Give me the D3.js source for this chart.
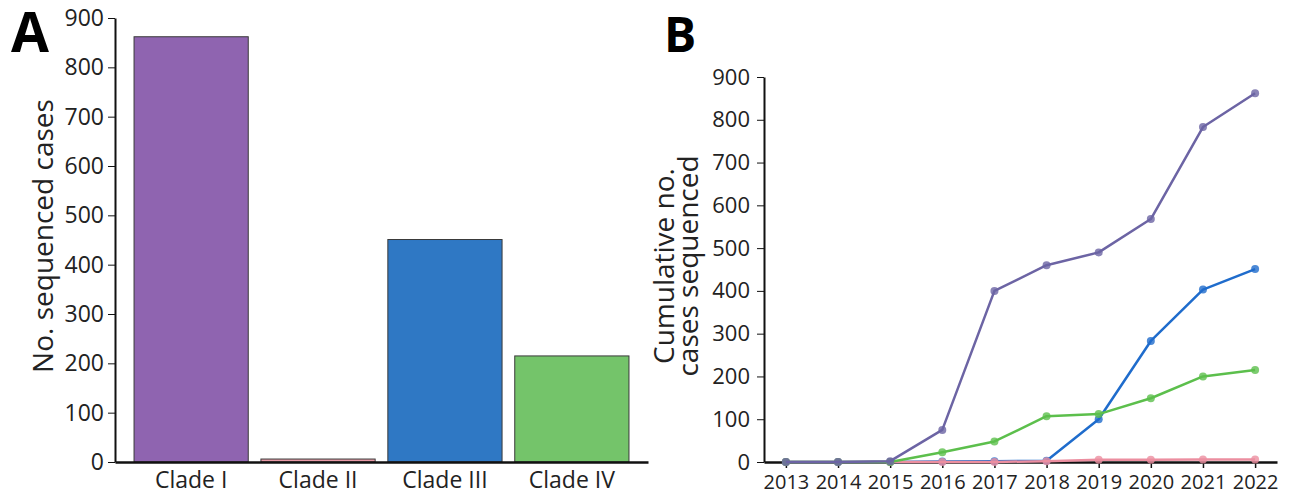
<!DOCTYPE html>
<html>
<head>
<meta charset="utf-8">
<script src="https://cdn.jsdelivr.net/npm/d3@7"></script>
<style>
  body { margin: 0; background: #fff; }
  svg text { font-family: "Open Sans", "Noto Sans", sans-serif; }
  .axis path, .axis line { stroke: #111; }
  .axis text { fill: #222; }
</style>
</head>
<body>
<svg id="chart" width="1290" height="494"></svg>
<script>
// ---- data ----
const clades = ["Clade I", "Clade II", "Clade III", "Clade IV"];
const cladeTotals = [862, 6, 451, 215];
const cladeFill = ["#8f64b0", "#e99aa6", "#2f78c4", "#74c46a"];
const lineColor = ["#6c64a4", "#ec8ea0", "#1f6ccc", "#5cbf4c"];

const years = ["2013", "2014", "2015", "2016", "2017", "2018", "2019", "2020", "2021", "2022"];
const cladeI   = [0, 0, 2, 75, 400, 460, 490, 568, 783, 862];
const cladeII  = [0, 0, 0, 0, 0, 2, 5, 5, 6, 6];
const cladeIII = [0, 0, 0, 1, 2, 3, 100, 283, 403, 451];
const cladeIV  = [0, 0, 0, 23, 48, 107, 112, 149, 200, 215];

const yTicks = [0, 100, 200, 300, 400, 500, 600, 700, 800, 900];

const svg = d3.select("#chart");

// ---------- //
// Panel A    //
// ---------- //
const xA = d3.scaleBand().domain(clades).range([115, 648])
    .paddingInner(0.1).paddingOuter(0.15);
const yA = d3.scaleLinear().domain([0, 900]).range([462, 18]);

const gA = svg.append("g");

gA.selectAll("rect")
    .data(clades)
    .join("rect")
    .attr("x", d => xA(d))
    .attr("width", xA.bandwidth())
    .attr("y", (d, i) => yA(cladeTotals[i]))
    .attr("height", (d, i) => yA(0) - yA(cladeTotals[i]))
    .attr("fill", (d, i) => cladeFill[i])
    .attr("stroke", "#3a3a3a")
    .attr("stroke-width", 1);

gA.append("g")
    .attr("class", "axis")
    .attr("transform", `translate(115,0)`)
    .call(d3.axisLeft(yA).tickValues(yTicks).tickSize(7).tickSizeOuter(0).tickPadding(4))
    .call(g => g.selectAll("text").style("font-size", "23px"))
    .call(g => g.select(".domain").attr("stroke-width", 2));

gA.append("g")
    .attr("class", "axis")
    .attr("transform", `translate(0,462)`)
    .call(d3.axisBottom(xA).tickSize(0).tickPadding(10))
    .call(g => g.selectAll("text").style("font-size", "23px"))
    .call(g => g.select(".domain").attr("stroke-width", 2.5));

gA.append("text")
    .attr("transform", "translate(53,236) rotate(-90)")
    .attr("text-anchor", "middle")
    .style("font-size", "28px")
    .attr("fill", "#222")
    .text("No. sequenced cases");

svg.append("text")
    .attr("x", 11).attr("y", 52)
    .style("font-size", "55px").style("font-weight", "bold")
    .text("A");

// ---------- //
// Panel B    //
// ---------- //
const xB = d3.scalePoint().domain(years).range([764, 1277]).padding(0.42);
const yB = d3.scaleLinear().domain([0, 900]).range([462, 77]);

const gB = svg.append("g");

gB.append("g")
    .attr("class", "axis")
    .attr("transform", `translate(764,0)`)
    .call(d3.axisLeft(yB).tickValues(yTicks).tickSize(7).tickSizeOuter(0).tickPadding(7))
    .call(g => g.selectAll("text").style("font-size", "22px"))
    .call(g => g.select(".domain").attr("stroke-width", 2));

gB.append("g")
    .attr("class", "axis")
    .attr("transform", `translate(0,462)`)
    .call(d3.axisBottom(xB).tickSize(6).tickSizeOuter(0).tickPadding(7))
    .call(g => g.selectAll("text").style("font-size", "20px"))
    .call(g => g.selectAll(".tick line").attr("stroke-width", 1.5))
    .call(g => g.select(".domain").attr("stroke-width", 2.5));

// series drawn bottom to top
const series = [
  { values: cladeIII, color: lineColor[2] },
  { values: cladeII,  color: lineColor[1] },
  { values: cladeIV,  color: lineColor[3] },
  { values: cladeI,   color: lineColor[0] }
];

const line = d3.line()
    .x((d, i) => xB(years[i]))
    .y(d => yB(d));

series.forEach(s => {
  const g = gB.append("g");
  g.append("path")
      .attr("d", line(s.values))
      .attr("fill", "none")
      .attr("stroke", s.color)
      .attr("stroke-width", 2.5)
      .attr("stroke-linejoin", "round");
  g.selectAll("circle")
      .data(s.values)
      .join("circle")
      .attr("cx", (d, i) => xB(years[i]))
      .attr("cy", d => yB(d))
      .attr("r", 4)
      .attr("fill", s.color)
      .attr("fill-opacity", 0.8);
});

gB.append("text")
    .attr("transform", "translate(674,266) rotate(-90)")
    .attr("text-anchor", "middle")
    .style("font-size", "28px")
    .attr("fill", "#222")
    .call(t => t.append("tspan").attr("x", 0).attr("dy", 0).text("Cumulative no."))
    .call(t => t.append("tspan").attr("x", 0).attr("dy", 24).text("cases sequenced"));

svg.append("text")
    .attr("x", 664).attr("y", 52)
    .style("font-size", "48px").style("font-weight", "bold")
    .text("B");
</script>
</body>
</html>
